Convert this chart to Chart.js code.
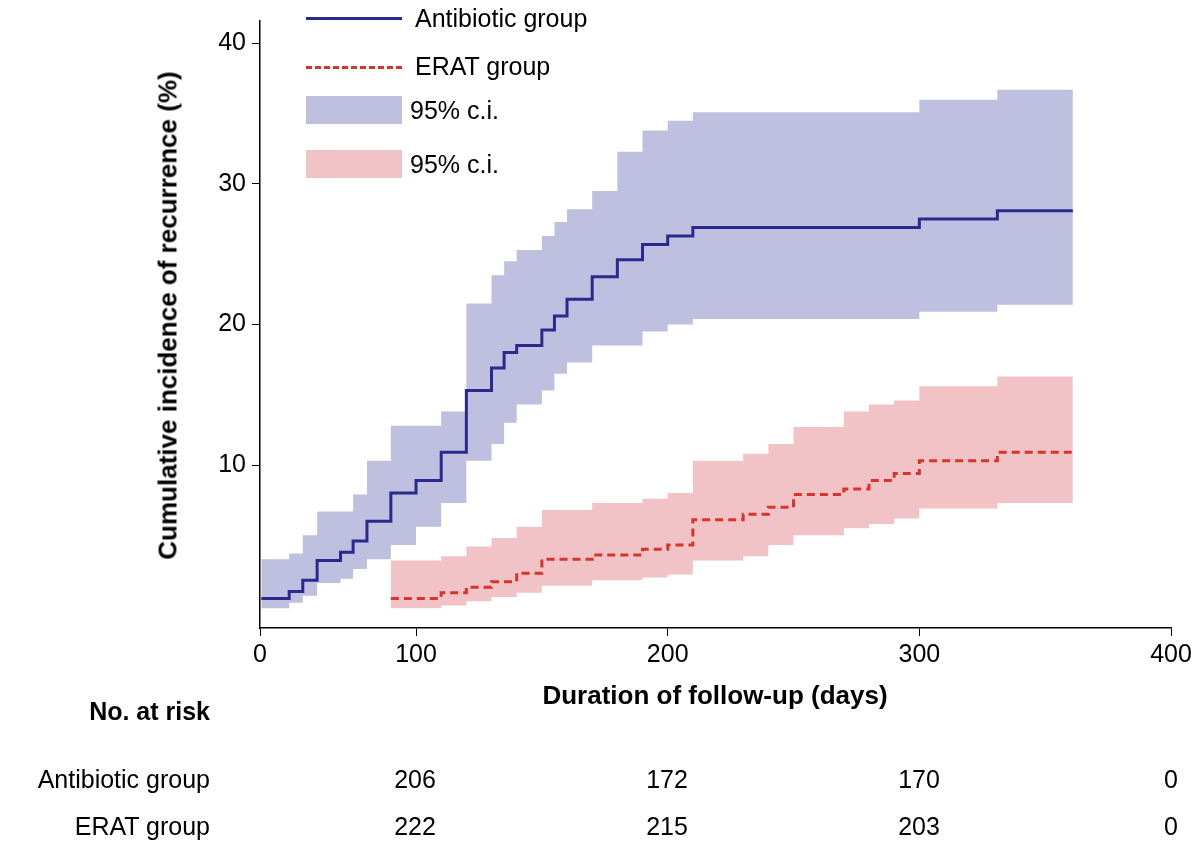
<!DOCTYPE html><html><head><meta charset="utf-8">
<script src="https://cdn.jsdelivr.net/npm/chart.js@4"></script>
<style>body{margin:0;background:#fff;font-family:"Liberation Sans",Arial,sans-serif}
#w{position:relative;width:1200px;height:845px}
.t{position:absolute;font-size:25px;color:#000;white-space:nowrap}
</style></head><body><div id="w"><canvas id="c" width="1200" height="845"></canvas>
<div class="t" style="left:30px;top:697px;font-weight:bold;width:180px;text-align:right">No. at risk</div>
<div class="t" style="left:0;top:765px;width:210px;text-align:right">Antibiotic group</div>
<div class="t" style="left:0;top:812px;width:210px;text-align:right">ERAT group</div>
<div class="t" style="left:415px;top:680px;width:600px;text-align:center;font-weight:bold;font-size:26px">Duration of follow-up (days)</div>
<div class="t" style="left:-132px;top:300px;width:600px;text-align:center;font-weight:bold;font-size:26px;transform:rotate(-90deg)">Cumulative incidence of recurrence (%)</div>
<div id="risk"></div>
<div class="t" style="left:415px;top:4px">Antibiotic group</div>
<div class="t" style="left:415px;top:52px">ERAT group</div>
<div class="t" style="left:410px;top:96px">95% c.i.</div>
<div class="t" style="left:410px;top:150px">95% c.i.</div>
<div style="position:absolute;left:306px;top:17px;width:96px;height:3px;background:#2a2a8e"></div>
<div style="position:absolute;left:306px;top:66px;width:96px;border-top:3px dashed #d9342b"></div>
<div style="position:absolute;left:306px;top:96px;width:96px;height:28px;background:#bfc0df"></div>
<div style="position:absolute;left:306px;top:150px;width:96px;height:28px;background:#f2c3c6"></div>
</div>
<script>
const riskDays=[100,200,300,400];
const riskAnti=[206,172,170,0];
const riskErat=[222,215,203,0];
const antiX=[38.5,49.6,55,60.7,70,75,80.5,90,100,110,120,130,135,140,150,155,160,170,180,190,200,210,300,331,361];
const antiY=[0.5,1.0,1.8,3.2,3.8,4.6,6.0,8.0,8.9,10.9,15.3,16.9,18.0,18.5,19.6,20.6,21.8,23.4,24.6,25.7,26.3,26.9,27.5,28.1,28.1];
const antiUp=[3.3,3.7,5.0,6.7,6.7,7.9,10.3,12.8,12.8,13.8,21.5,23.5,24.5,25.3,26.3,27.3,28.2,29.5,32.3,33.8,34.5,35.1,36.0,36.7,36.7];
const antiLo=[-0.2,0.2,0.7,1.6,1.9,2.6,3.3,4.3,5.6,7.3,10.3,11.5,13.0,14.3,15.3,16.5,17.3,18.5,18.5,19.5,20.0,20.4,20.9,21.4,21.4];
const eratX=[90,110,120,130,140,150,170,190,200,210,230,240,250,270,280,290,300,331,361];
const eratY=[0.5,0.9,1.3,1.7,2.3,3.3,3.6,4.0,4.3,6.1,6.5,7.0,7.9,8.3,8.9,9.4,10.3,10.9,10.9];
const eratUp=[3.2,3.5,4.2,4.8,5.6,6.8,7.3,7.6,8.0,10.3,10.8,11.5,12.7,13.8,14.3,14.6,15.6,16.3,16.3];
const eratLo=[-0.2,0,0.3,0.6,0.9,1.4,1.8,2.0,2.2,3.2,3.5,4.3,5.0,5.5,5.8,6.2,6.9,7.3,7.3];
const xTicks=[38,100,200,300,400];
const xTickLabels=['0','100','200','300','400'];
const yTicks=[10,20,30,40];
const pts=(xs,ys)=>xs.map((x,i)=>({x,y:ys[i]}));
let h='';
riskDays.forEach((d,i)=>{const px=163+d*2.52;
h+=`<div class="t" style="left:${px-60}px;top:765px;width:120px;text-align:center">${riskAnti[i]}</div>`;
h+=`<div class="t" style="left:${px-60}px;top:812px;width:120px;text-align:center">${riskErat[i]}</div>`;});
document.getElementById('risk').innerHTML=h;
const band=(c)=>({pointRadius:0,borderWidth:0,stepped:true,backgroundColor:c});
new Chart(document.getElementById('c'),{type:'line',data:{datasets:[
{data:pts(antiX,antiY),borderColor:'#2a2a8e',borderWidth:3,pointRadius:0,stepped:true,fill:false},
{data:pts(eratX,eratY),borderColor:'#d9342b',borderWidth:3,borderDash:[8,5],pointRadius:0,stepped:true,fill:false},
{...band('#bfc0df'),data:pts(antiX,antiUp),fill:'+1'},
{...band('#bfc0df'),data:pts(antiX,antiLo),fill:false},
{...band('#f2c3c6'),data:pts(eratX,eratUp),fill:'+1'},
{...band('#f2c3c6'),data:pts(eratX,eratLo),fill:false}
]},options:{animation:false,responsive:false,layout:{padding:{top:0,right:29}},
plugins:{legend:{display:false},tooltip:{enabled:false}},
scales:{x:{type:'linear',min:38,max:400,
afterBuildTicks:s=>{s.ticks=xTicks.map(v=>({value:v}))},
afterFit:s=>{s.height=217},
ticks:{callback:(v)=>xTickLabels[xTicks.indexOf(v)],color:'#000',font:{size:25,family:'Liberation Sans'},maxRotation:0,padding:4},
grid:{drawOnChartArea:false,tickLength:8,color:'#000'},border:{color:'#000',width:1.5}},
y:{min:-1.6,max:41.6,afterBuildTicks:s=>{s.ticks=yTicks.map(v=>({value:v}))},
afterFit:s=>{s.width=260},
ticks:{color:'#000',font:{size:25,family:'Liberation Sans'},padding:6},
grid:{drawOnChartArea:false,tickLength:8,color:'#000'},border:{color:'#000',width:1.5}}}}});
</script></body></html>
